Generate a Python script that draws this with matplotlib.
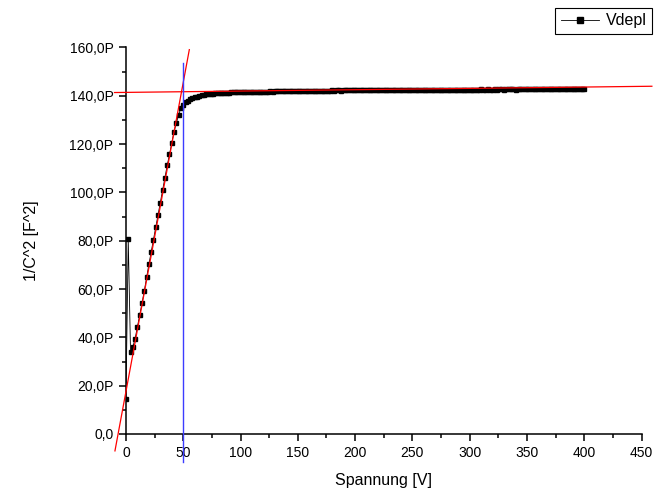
import numpy as np
import matplotlib
matplotlib.use("Agg")
import matplotlib.pyplot as plt
from matplotlib.ticker import MultipleLocator, FuncFormatter

plt.rcParams['font.family'] = ['Liberation Sans', 'DejaVu Sans']

# measured 1/C^2 in units of 1e-12 F^-2 ("P"), voltage steps of 2 V
voltage = np.arange(0, 402, 2)
inv_c2 = [
    14.5, 80.6, 33.9, 36.0, 39.5, 44.3, 49.2, 54.1, 59.2, 64.8,     # 0-18
    70.2, 75.3, 80.3, 85.5, 90.6, 95.7, 100.9, 105.9, 111.2, 115.7,  # 20-38
    120.6, 125.2, 128.8, 132.2, 135.0,                               # 40-48
    136.3, 137.3, 138.0, 138.6, 139.0, 139.4, 139.7, 140.0, 140.2, 140.4,  # 50-68
    140.6, 140.7, 140.8, 140.9, 141.0, 141.1,                              # 70-80
    141.1, 141.2, 141.2, 141.3, 141.3, 141.4, 141.4, 141.4, 141.5, 141.5,  # 82-100
    141.5, 141.6, 141.5, 141.6, 141.6, 141.6, 141.7, 141.6, 141.7, 141.7,
    141.7, 141.7, 141.8, 141.7, 141.8, 141.8, 141.8, 141.8, 141.9, 141.8,
    141.9, 141.9, 141.8, 141.9, 141.9,
    141.9, 142.0, 141.9, 142.0, 142.0, 142.0, 142.0, 142.1, 142.0, 142.1,
    142.1, 142.1, 142.1, 142.1, 142.2, 142.1, 142.2, 142.2, 142.1, 142.2,
    142.2, 142.2, 142.2, 142.3, 142.2,
    142.3, 142.2, 142.3, 142.3, 142.3, 142.3, 142.4, 142.3, 142.3, 142.4,
    142.4, 142.3, 142.4, 142.4, 142.4, 142.4, 142.4, 142.5, 142.4, 142.4,
    142.5, 142.4, 142.5, 142.5, 142.4, 142.5, 142.5, 142.5, 142.5, 142.5,
    142.5, 142.6, 142.5, 142.5, 142.5, 142.6, 142.5, 142.6, 142.6, 142.5,
    142.6, 142.6, 142.6, 142.5, 142.6, 142.6, 142.6, 142.6, 142.6, 142.6,
    142.6, 142.6, 142.6, 142.6, 142.7, 142.6, 142.6, 142.7, 142.6, 142.6,
    142.7, 142.6, 142.7, 142.7, 142.6, 142.7, 142.7, 142.7, 142.7, 142.6,
    142.7, 142.7, 142.7, 142.7, 142.7, 142.7, 142.7, 142.7, 142.7, 142.7,
    142.7, 142.7, 142.8, 142.7, 142.7, 142.8, 142.7, 142.7, 142.8, 142.7,
    142.8, 142.7, 142.8, 142.8, 142.7, 142.8, 142.8, 142.8, 142.8, 142.8,
]

# linear fits (red) and depletion voltage marker (blue)
rise_x = [-9.6, 55.3]
rise_y = [-7.0, 159.1]
flat_x = [-10, 459]
flat_y = [141.35, 143.95]
vdepl = 50
vdepl_y = [-11.6, 153.6]

fig = plt.figure(figsize=(6.56, 4.93), dpi=100)
ax = fig.add_axes([0.192, 0.1197, 0.786, 0.7840])

ax.plot(voltage, inv_c2, color='black', lw=0.6, marker='s', ms=2.6,
        mec='black', mfc='black', label='Vdepl', zorder=3)
ax.plot(rise_x, rise_y, color='#ff0000', lw=0.9, clip_on=False, zorder=4)
ax.plot(flat_x, flat_y, color='#ff0000', lw=0.9, clip_on=False, zorder=4)
ax.plot([vdepl, vdepl], vdepl_y, color='#3c3cff', lw=1.0, clip_on=False, zorder=4)

ax.set_xlim(0, 450)
ax.set_ylim(0, 160)
ax.xaxis.set_major_locator(MultipleLocator(50))
ax.xaxis.set_minor_locator(MultipleLocator(25))
ax.yaxis.set_major_locator(MultipleLocator(20))
ax.yaxis.set_minor_locator(MultipleLocator(10))


def fmt_p(v, pos):
    if abs(v) < 1e-9:
        return '0,0'
    return f'{v:.1f}P'.replace('.', ',')


ax.yaxis.set_major_formatter(FuncFormatter(fmt_p))

for side in ['top', 'right']:
    ax.spines[side].set_visible(False)
for side in ['left', 'bottom']:
    ax.spines[side].set_linewidth(1.1)
ax.tick_params(which='major', direction='out', length=5, width=1.1,
               labelsize=10, pad=4)
ax.tick_params(which='minor', direction='out', length=3, width=1.1)

ax.set_xlabel('Spannung [V]', fontsize=11.5, labelpad=9)
ax.set_ylabel('1/C^2 [F^2]', fontsize=11.5, labelpad=22)

leg = fig.legend(loc='upper right', bbox_to_anchor=(0.994, 0.984),
                 borderaxespad=0, fontsize=11.5, fancybox=False,
                 edgecolor='black', framealpha=1, handlelength=2.4,
                 borderpad=0.35, handletextpad=0.4, markerscale=1.4)
leg.get_frame().set_linewidth(0.8)

fig.savefig('out.png', dpi=100)
